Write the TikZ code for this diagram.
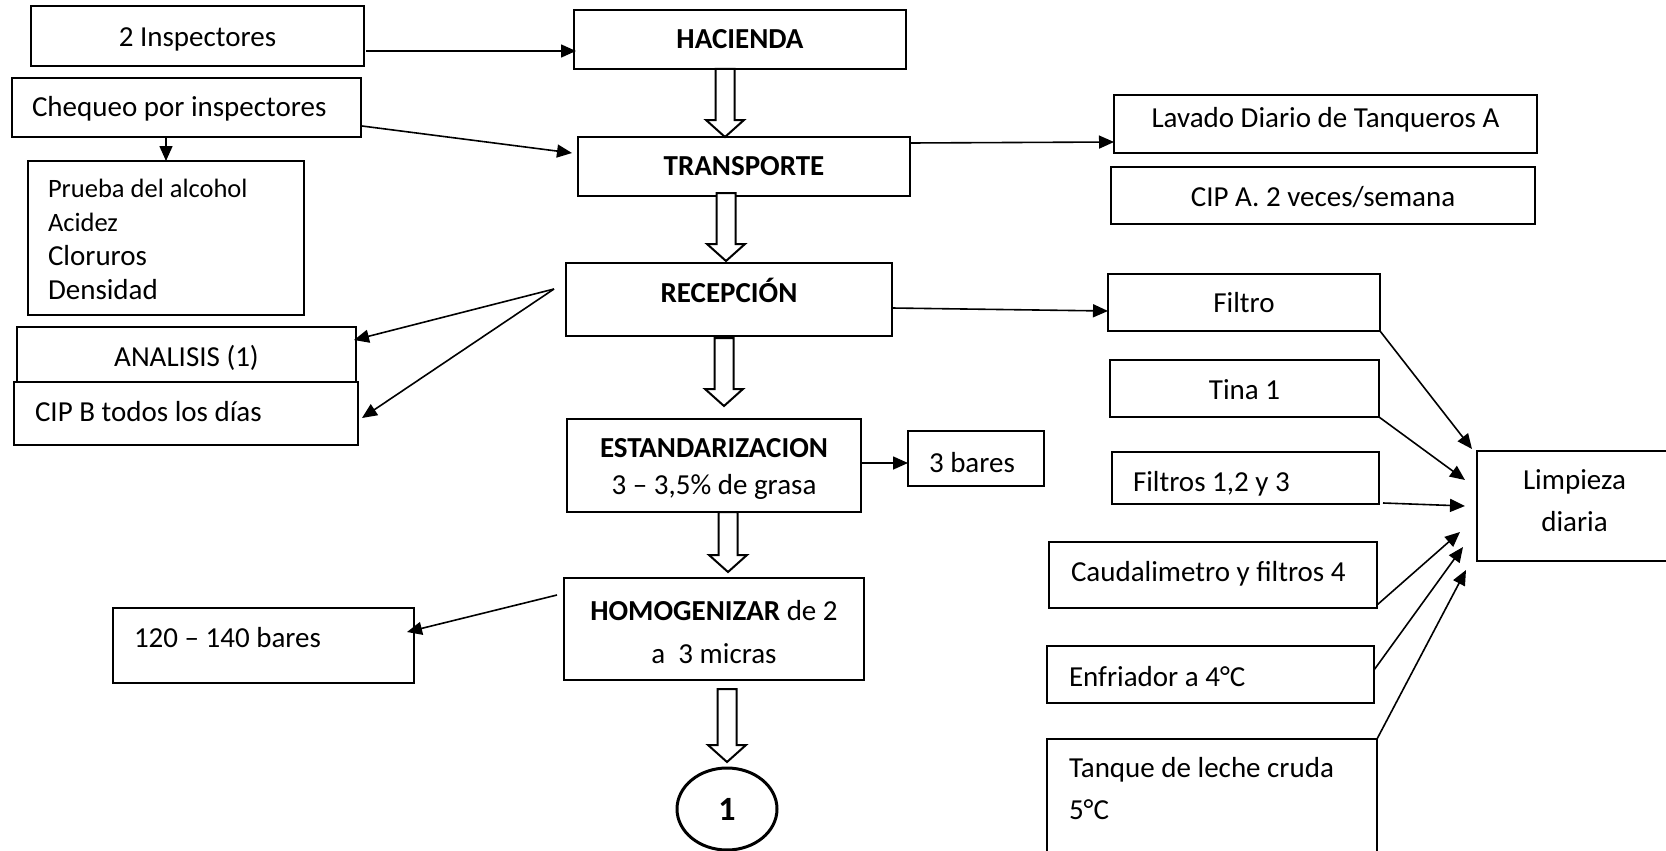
\documentclass[tikz,border=0pt]{standalone}
\usepackage{fontspec}
\setmainfont{Carlito}
\usetikzlibrary{arrows.meta,calc,shapes.geometric}

\newcommand\bodysize{\fontsize{29}{34}\selectfont}
\newcommand\smallsize{\fontsize{26.5}{34}\selectfont}
% left-aligned single line of a given width
\newcommand\lft[2]{\makebox[#1][l]{#2}}
% hollow block arrow pointing down: x, source anchor, target anchor,
% drop below the source, gap left above the target
\newcommand\hollowdown[5]{%
  \draw[hollowarrow] let \p1=(#2), \p2=(#3) in
    ({#1pt-9.5pt},{\y1-(#4pt)}) -- ({#1pt-9.5pt},{\y2+#5pt+17pt})
    -- ({#1pt-19pt},{\y2+#5pt+17pt}) -- ({#1pt},{\y2+#5pt})
    -- ({#1pt+19pt},{\y2+#5pt+17pt}) -- ({#1pt+9.5pt},{\y2+#5pt+17pt})
    -- ({#1pt+9.5pt},{\y1-(#4pt)}) -- cycle;}

\begin{document}
\begin{tikzpicture}[x=1pt,y=1pt,
  frame/.style={draw, line width=2pt, rectangle, inner sep=0pt, outer sep=0pt, font=\bodysize},
  box/.style={frame, text height=21pt, text depth=4pt},
  arr/.style={line width=1.6pt, -{Triangle[length=15pt,width=13pt]}},
  hollowarrow/.style={draw, fill=white, line width=2pt, line join=miter},
]
\fill[white] (0,0) rectangle (1666,-851);
\useasboundingbox (0,0) rectangle (1666,-851);

% ---- left column ----
\node[box, minimum width=333pt, minimum height=60pt, text height=25pt] (insp) at (197.5,-36) {2 Inspectores};
\node[box, minimum width=349pt, minimum height=59pt, text height=23pt] (cheq) at (186.5,-107.5) {\lft{309pt}{Chequeo por inspectores}};
\node[frame, minimum width=276pt, minimum height=154pt, align=left] (pru) at (166,-238)
  {\rule{0pt}{24pt}\lft{236pt}{\smallsize Prueba del alcohol}\\{\smallsize Acidez}\\Cloruros\\Densidad\rule[-4pt]{0pt}{0pt}};
\node[box, minimum width=339pt, minimum height=55pt, text height=28pt] (ana) at (186.5,-354.5) {ANALISIS (1)};
\node[box, minimum width=344pt, minimum height=63pt, text depth=5pt] (cipb) at (186,-413.5) {\lft{302pt}{CIP B todos los días}};
\node[box, minimum width=301pt, minimum height=75pt, text depth=17pt] (b120) at (263.5,-645.5) {\lft{259pt}{120 – 140 bares}};

% ---- main process column ----
\node[box, minimum width=332pt, minimum height=59pt, text height=23pt] (hac) at (740,-39.5) {\textbf{HACIENDA}};
\node[box, minimum width=332pt, minimum height=59pt] (trans) at (744,-166.5) {\textbf{TRANSPORTE}};
\node[box, minimum width=326pt, minimum height=73pt, text depth=15pt] (rec) at (729,-299.5) {\textbf{RECEPCIÓN}};
\node[frame, minimum width=294pt, minimum height=93pt, align=center, font=\fontsize{29}{37}\selectfont] (est) at (714,-465.5)
  {\rule{0pt}{29pt}\textbf{ESTANDARIZACION}\\3 – 3,5\% de grasa\rule[-8pt]{0pt}{0pt}};
\node[box, minimum width=136pt, minimum height=55pt, text height=32pt] (bares) at (976,-458.5) {\lft{94pt}{3 bares}};
\node[frame, minimum width=300pt, minimum height=102pt, align=center, font=\fontsize{29}{43}\selectfont] (hom) at (714,-629)
  {\rule{0pt}{29pt}\textbf{HOMOGENIZAR} de 2\\a\ \ 3 micras\rule[-4pt]{0pt}{0pt}};
\node[draw, ellipse, line width=3pt, inner sep=0pt, outer sep=0pt, minimum width=100pt, minimum height=82pt,
      font=\fontsize{34}{34}\selectfont\bfseries] (one) at (727,-809) {1};

% ---- right column ----
\node[box, minimum width=423pt, minimum height=58pt, text depth=14pt] (lav) at (1325.5,-124) {Lavado Diario de Tanqueros A};
\node[box, minimum width=424pt, minimum height=57pt, text height=26pt] (cipa) at (1323,-195.5) {CIP A. 2 veces/semana};
\node[box, minimum width=272pt, minimum height=57pt, text height=23pt] (fil) at (1244,-302.5) {Filtro};
\node[box, minimum width=269pt, minimum height=57pt, text height=26pt] (tina) at (1244.5,-388.5) {Tina 1};
\node[box, minimum width=267pt, minimum height=52pt, text height=31pt] (fils) at (1245.5,-478) {\lft{225pt}{Filtros 1,2 y 3}};
\node[box, minimum width=328pt, minimum height=66pt, text depth=8pt] (caud) at (1213,-575) {\lft{284pt}{Caudalimetro y filtros 4}};
\node[box, minimum width=327pt, minimum height=57pt, text height=28pt] (enf) at (1210.5,-674.5) {\lft{283pt}{Enfriador a 4°C}};
\node[frame, minimum width=330pt, minimum height=161pt, align=left, font=\fontsize{29}{42}\selectfont] (tan) at (1212,-819.5)
  {\rule{0pt}{21pt}\lft{286pt}{Tanque de leche cruda}\\5°C\rule[-63pt]{0pt}{0pt}};
\node[frame, minimum width=195pt, minimum height=110pt, align=center, font=\fontsize{29}{42}\selectfont] (lim) at (1574.5,-506)
  {\rule{0pt}{21pt}Limpieza\\diaria\rule[-12pt]{0pt}{0pt}};

% ---- thin connectors ----
\draw[arr] ([xshift=2pt,yshift=-15pt]insp.east) -- ([xshift=2pt,yshift=-11.5pt]hac.west);
\draw[arr] ([xshift=1pt,yshift=-18.5pt]cheq.east) -- ([xshift=-6pt,yshift=13.5pt]trans.west);
\draw[arr] ([xshift=-20.5pt]cheq.south) -- (pru.north);
\draw[arr] ([yshift=23.5pt]trans.east) -- ([yshift=-18pt]lav.west);
\coordinate (split) at ([xshift=-12pt,yshift=10.5pt]rec.west);
\draw[arr] (split) -- ([xshift=-2pt,yshift=14.5pt]ana.east);
\draw[arr] (split) -- ([xshift=4pt,yshift=-4.5pt]cipb.east);
\draw[arr] ([yshift=-8.5pt]rec.east) -- ([yshift=-8.5pt]fil.west);
\draw[arr] ([yshift=2.5pt]est.east) -- ([yshift=-4.5pt]bares.west);
\draw[arr] ([xshift=-7pt,yshift=34pt]hom.west) -- ([xshift=-7pt,yshift=13.5pt]b120.east);

\draw[arr] (fil.south east) -- ([xshift=-5pt,yshift=57pt]lim.west);
\draw[arr] (tina.south east) -- ([xshift=-12pt,yshift=26pt]lim.west);
\draw[arr] ([xshift=4pt,yshift=1pt]fils.south east) -- ([xshift=-12pt]lim.west);
\draw[arr] ([yshift=3pt]caud.south east) -- ([xshift=-17pt,yshift=-26pt]lim.west);
\draw[arr] ([yshift=4.5pt]enf.east) -- ([xshift=-14pt,yshift=-41pt]lim.west);
\draw[arr] (tan.north east) -- ([xshift=-11pt,yshift=-64pt]lim.west);

% ---- hollow flow arrows ----
\hollowdown{725}{hac.south}{trans.north}{0}{0}
\hollowdown{726}{trans.south}{rec.north}{-3}{2}
\hollowdown{724}{rec.south}{est.north}{2}{13}
\hollowdown{728}{est.south}{hom.north}{0}{6}
\hollowdown{727}{hom.south}{one.north}{9}{6}
\end{tikzpicture}
\end{document}
